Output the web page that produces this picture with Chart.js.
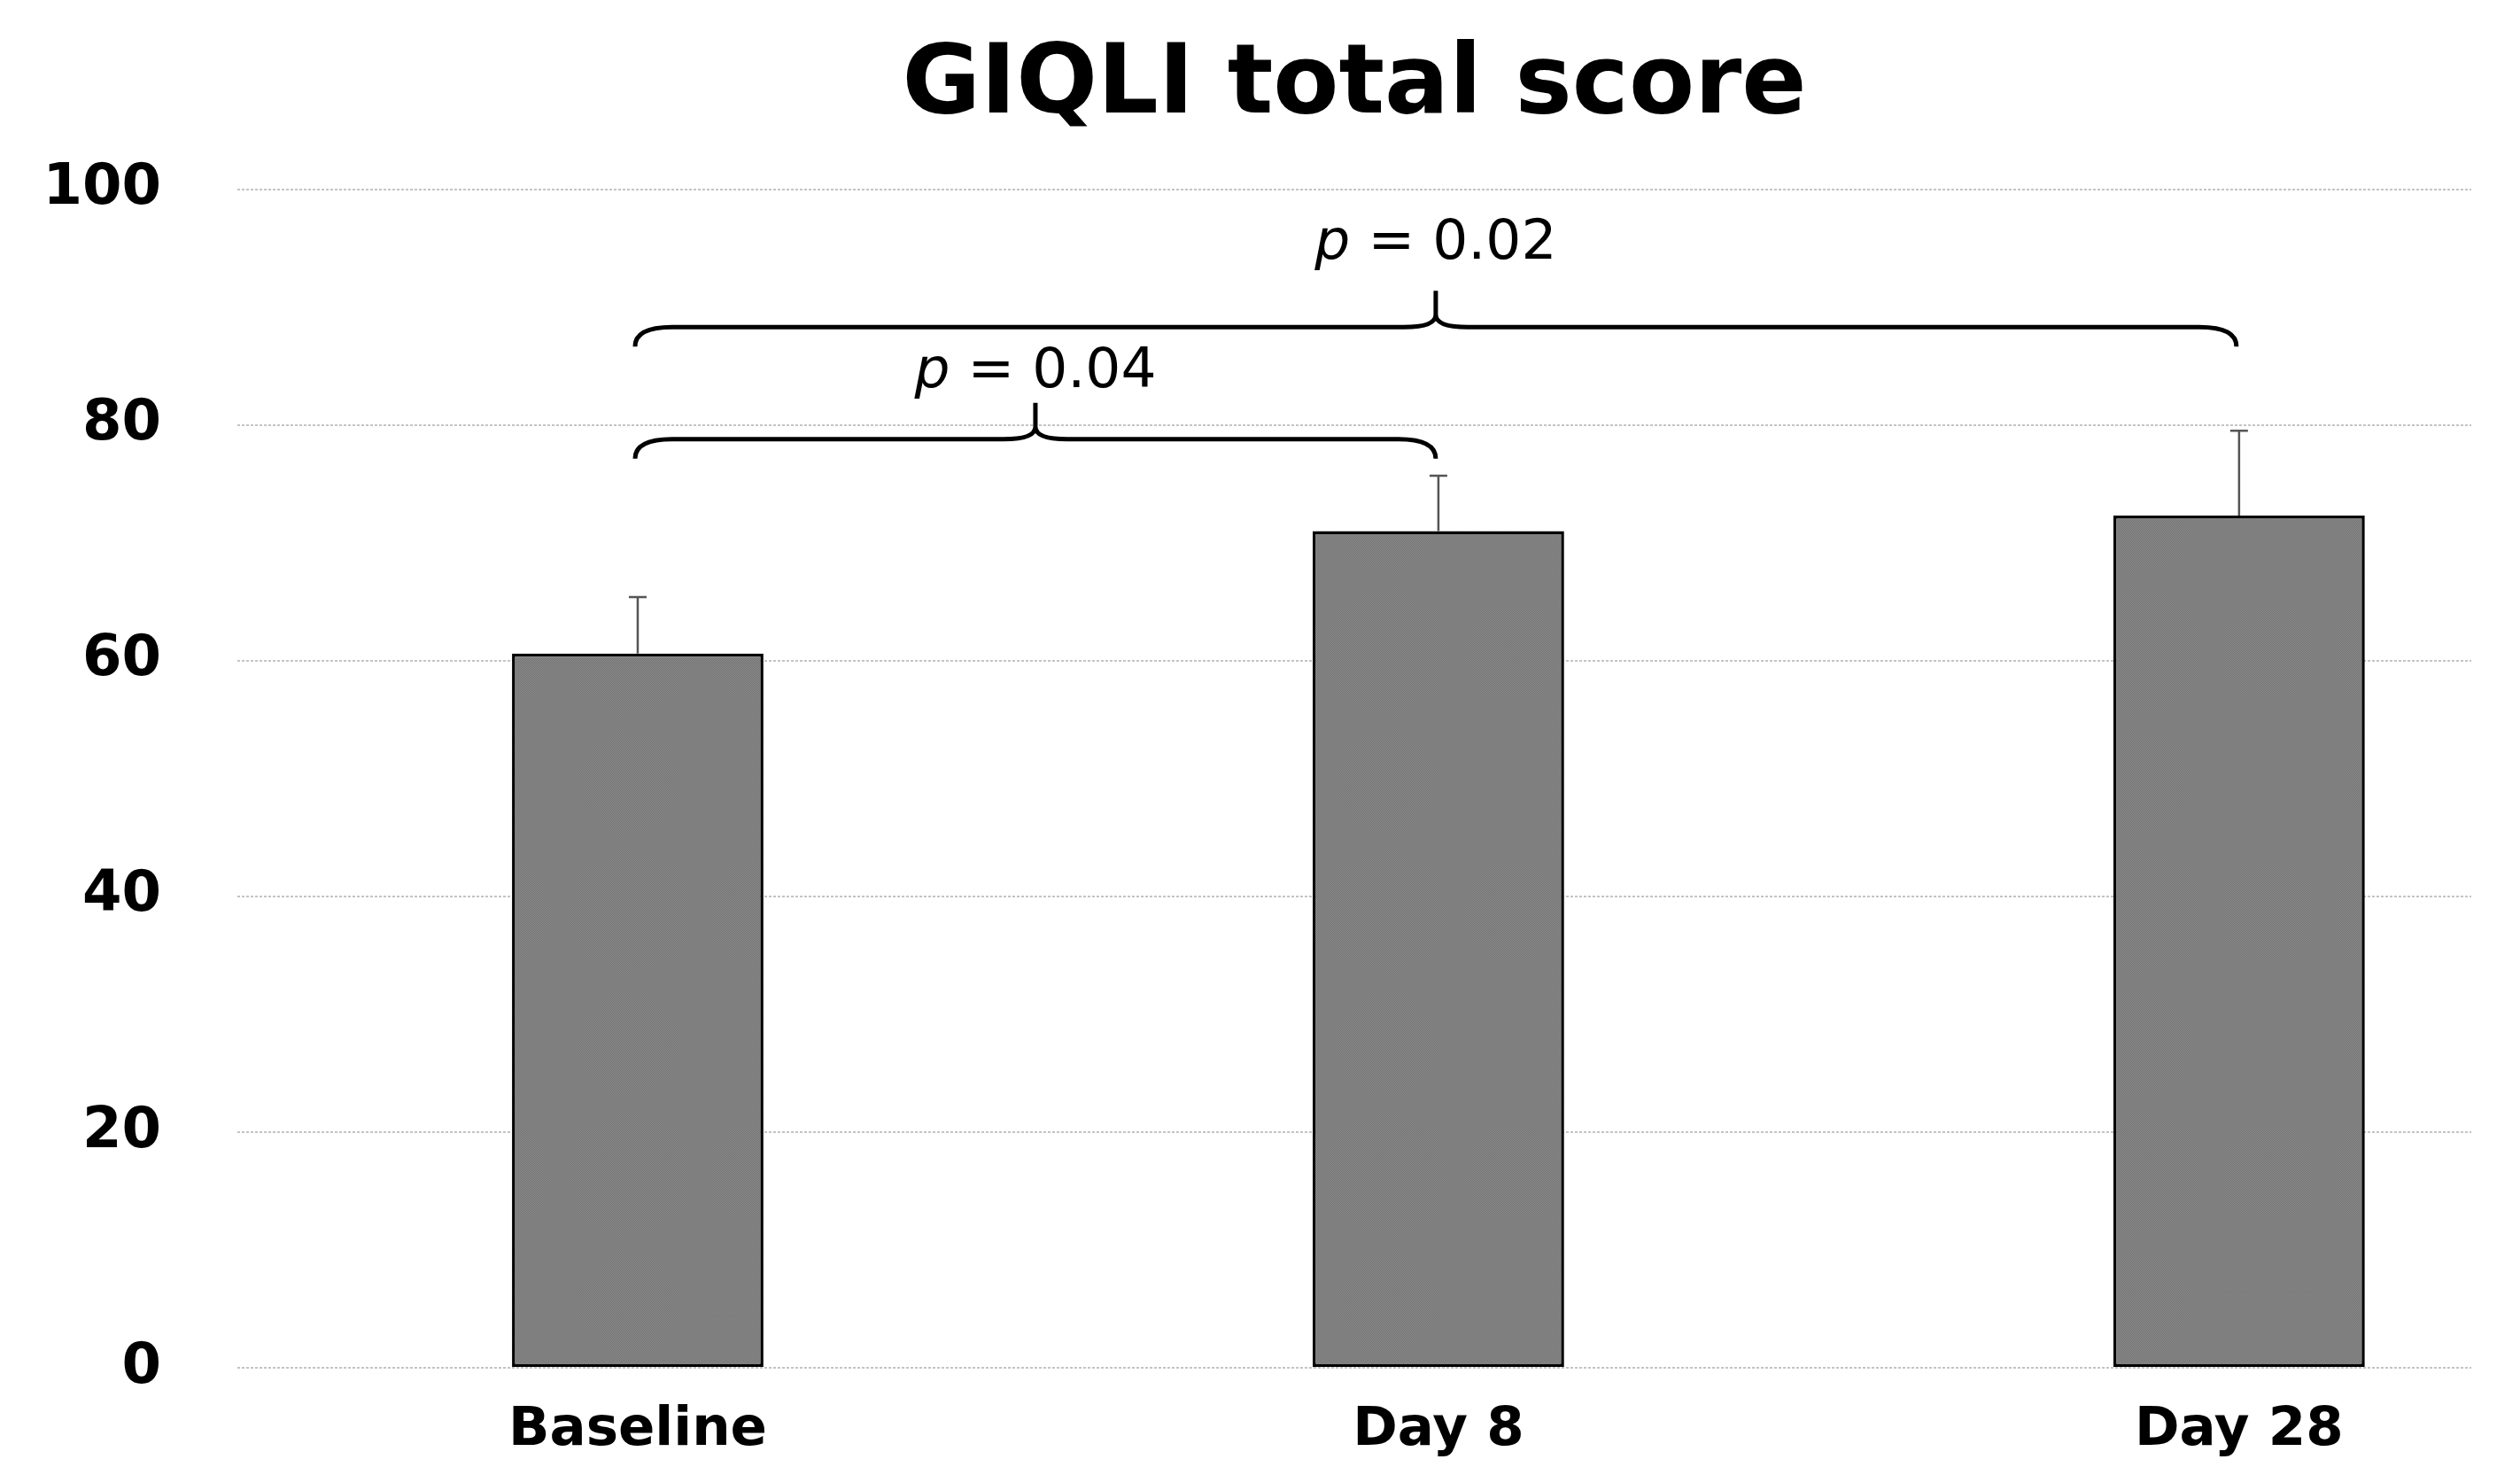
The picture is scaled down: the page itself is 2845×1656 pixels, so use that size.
<!DOCTYPE html>
<html>
<head>
<meta charset="utf-8">
<script src="https://cdn.jsdelivr.net/npm/chart.js@4.4.1/dist/chart.umd.min.js"></script>
<style>
  html, body { margin: 0; padding: 0; background: #fff; overflow: hidden; }
  #wrap { width: 2845px; height: 1656px; }
</style>
</head>
<body>
<div id="wrap"><canvas id="giqliChart"></canvas></div>
<script>
// Dados
const categories = ['Baseline', 'Day 8', 'Day 28'];
const meanScore = [60.6, 71.0, 72.3];
const sdScore = [4.8, 4.7, 7.2];
const yTicks = [0, 20, 40, 60, 80, 100];

// Comparações (chaves) entre grupos
const bracketFrom = [0, 0];
const bracketTo = [1, 2];
const bracketLevel = [78.8, 88.3];
const bracketP = ['0.04', '0.02'];

const FONT = "'DejaVu Sans', Verdana, sans-serif";
const labelGap = [18, 36]; // distância (px) entre a ponta da chave e o texto

// textura pontilhada das barras
function barPattern() {
    const c = document.createElement('canvas');
    c.width = 2; c.height = 2;
    const g = c.getContext('2d');
    g.fillStyle = '#8c8c8c';
    g.fillRect(0, 0, 2, 2);
    g.fillStyle = '#727272';
    g.fillRect(0, 0, 1, 1);
    g.fillRect(1, 1, 1, 1);
    return g.createPattern(c, 'repeat');
}

const errorBarsAndBrackets = {
    id: 'errorBarsAndBrackets',
    afterDatasetsDraw(chart) {
        const ctx = chart.ctx;
        const x = chart.scales.x;
        const y = chart.scales.y;
        ctx.save();

        // barras de erro (apenas superior)
        ctx.strokeStyle = '#555555';
        ctx.lineWidth = 2.5;
        meanScore.forEach((m, i) => {
            const px = x.getPixelForValue(i);
            const top = y.getPixelForValue(m + sdScore[i]);
            const base = y.getPixelForValue(m);
            ctx.beginPath();
            ctx.moveTo(px, base);
            ctx.lineTo(px, top);
            ctx.moveTo(px - 10, top);
            ctx.lineTo(px + 10, top);
            ctx.stroke();
        });

        // chaves com valor de p
        ctx.strokeStyle = '#000';
        ctx.lineWidth = 5;
        bracketLevel.forEach((lvl, k) => {
            const x1 = x.getPixelForValue(bracketFrom[k]) - 3;
            const x2 = x.getPixelForValue(bracketTo[k]) - 3;
            const xm = (x1 + x2) / 2;
            const yl = y.getPixelForValue(lvl);
            const yEnd = yl + 22;
            const yPeak = yl - 41;
            ctx.beginPath();
            ctx.moveTo(x1, yEnd);
            ctx.quadraticCurveTo(x1, yl, x1 + 42, yl);
            ctx.lineTo(xm - 36, yl);
            ctx.quadraticCurveTo(xm, yl, xm, yl - 14);
            ctx.lineTo(xm, yPeak);
            ctx.moveTo(xm, yl - 14);
            ctx.quadraticCurveTo(xm, yl, xm + 36, yl);
            ctx.lineTo(x2 - 42, yl);
            ctx.quadraticCurveTo(x2, yl, x2, yEnd);
            ctx.stroke();

            const italic = 'italic 63px ' + FONT;
            const normal = '63px ' + FONT;
            const rest = ' = ' + bracketP[k];
            ctx.font = italic;
            const wp = ctx.measureText('p').width;
            ctx.font = normal;
            const wr = ctx.measureText(rest).width;
            const start = xm - (wp + wr) / 2;
            const base = yPeak - labelGap[k];
            ctx.fillStyle = '#000';
            ctx.textBaseline = 'alphabetic';
            ctx.textAlign = 'left';
            ctx.font = italic;
            ctx.fillText('p', start, base);
            ctx.font = normal;
            ctx.fillText(rest, start + wp, base);
        });
        ctx.restore();
    }
};

document.addEventListener('DOMContentLoaded', function () {
    const ctx = document.getElementById('giqliChart').getContext('2d');
    new Chart(ctx, {
        type: 'bar',
        data: {
            datasets: [{
                label: 'GIQLI',
                data: meanScore.map((v, i) => ({ x: i, y: v })),
                backgroundColor: barPattern(),
                borderColor: '#000000',
                borderWidth: 3.5,
                borderSkipped: false,
                categoryPercentage: 1,
                barPercentage: 0.314
            }]
        },
        options: {
            responsive: true,
            maintainAspectRatio: false,
            animation: false,
            layout: { padding: { left: 0, right: 55, top: 0, bottom: 0 } },
            scales: {
                x: {
                    type: 'linear',
                    offset: false,
                    min: -0.5,
                    max: 2.29,
                    afterBuildTicks: function (scale) {
                        scale.ticks = categories.map((c, i) => ({ value: i }));
                    },
                    afterFit: function (scale) { scale.height = 112; },
                    grid: { display: false, drawTicks: false, offset: false },
                    border: { display: false },
                    ticks: {
                        callback: function (value) { return categories[value]; },
                        color: '#000',
                        padding: 35,
                        maxRotation: 0,
                        autoSkip: false,
                        font: { family: FONT, size: 61, weight: 'bold' }
                    }
                },
                y: {
                    min: 0,
                    max: 100,
                    afterBuildTicks: function (scale) {
                        scale.ticks = yTicks.map(v => ({ value: v }));
                    },
                    afterFit: function (scale) { scale.width = 268; },
                    grid: {
                        color: '#c4c4c4',
                        lineWidth: 2,
                        drawTicks: false
                    },
                    border: { display: false, dash: [3, 2] },
                    ticks: {
                        color: '#000',
                        padding: 86,
                        font: { family: FONT, size: 64, weight: 'bold', lineHeight: 0.8 }
                    }
                }
            },
            plugins: {
                legend: { display: false },
                tooltip: { enabled: false },
                title: {
                    display: true,
                    text: 'GIQLI total score',
                    fullSize: false,
                    color: '#000',
                    font: { family: FONT, size: 108, weight: 'bold', lineHeight: 1.2 },
                    padding: { top: 34, bottom: 50 }
                }
            }
        },
        plugins: [errorBarsAndBrackets]
    });
});
</script>
</body>
</html>
